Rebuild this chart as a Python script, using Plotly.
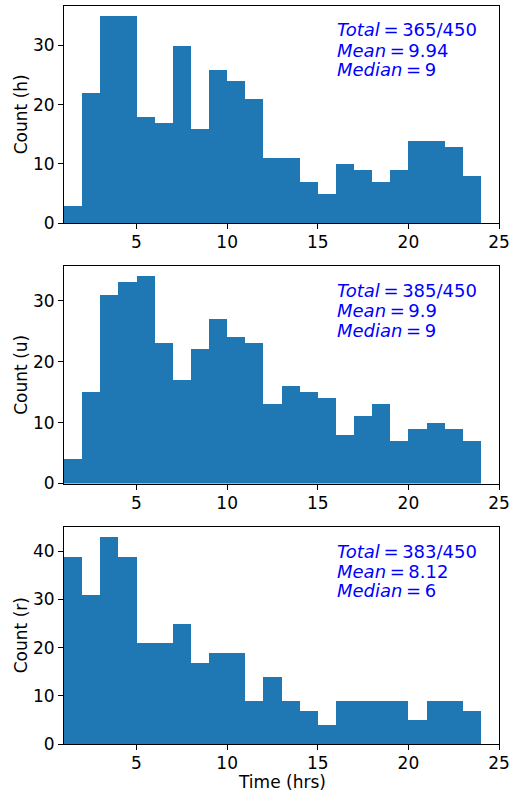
import plotly.graph_objects as go
from plotly.subplots import make_subplots

bin_edges = list(range(1, 25))
counts_h = [3, 22, 35, 35, 18, 17, 30, 16, 26, 24, 21, 11, 11, 7, 5, 10, 9, 7, 9, 14, 14, 13, 8]
counts_u = [4, 15, 31, 33, 34, 23, 17, 22, 27, 24, 23, 13, 16, 15, 14, 8, 11, 13, 7, 9, 10, 9, 7]
counts_r = [39, 31, 43, 39, 21, 21, 25, 17, 19, 19, 9, 14, 9, 7, 4, 9, 9, 9, 9, 5, 9, 9, 7]
panel_labels = ["Count (h)", "Count (u)", "Count (r)"]
x_label = "Time (hrs)"
totals = ["365/450", "385/450", "383/450"]
means = ["9.94", "9.9", "8.12"]
medians = ["9", "9", "6"]
x_ticks = [5, 10, 15, 20, 25]

W, H = 515, 790
FONT = "DejaVu Sans"
BLUE = "#1f77b4"
TS = 17  # tick / label font size

centers = [(a + b) / 2 for a, b in zip(bin_edges[:-1], bin_edges[1:])]
widths = [b - a for a, b in zip(bin_edges[:-1], bin_edges[1:])]

fig = make_subplots(rows=3, cols=1)

# panel pixel boxes (top, bottom)
boxes = [(5.5, 223), (266, 483.5), (526.5, 744)]
x0, x1 = 64, 499

all_counts = [counts_h, counts_u, counts_r]
annotations = []
sp = "\u2009"
for i, counts in enumerate(all_counts):
    r = i + 1
    fig.add_trace(go.Bar(x=centers, y=counts, width=widths, marker_color=BLUE,
                         marker_line_width=0, showlegend=False), row=r, col=1)
    top, bot = boxes[i]
    xa = "xaxis" if r == 1 else f"xaxis{r}"
    ya = "yaxis" if r == 1 else f"yaxis{r}"
    fig.layout[xa].update(domain=[x0 / W, x1 / W])
    fig.layout[ya].update(domain=[1 - bot / H, 1 - top / H])
    fig.update_xaxes(range=[1, 25], tickvals=x_ticks, row=r, col=1)
    fig.update_yaxes(range=[0, max(counts) * 1.05], dtick=10, row=r, col=1)
    # y-axis title
    annotations.append(dict(text=panel_labels[i], xref="paper", yref="paper",
                            x=21 / W, y=1 - ((top + bot) / 2) / H, textangle=-90,
                            xanchor="center", yanchor="middle", showarrow=False,
                            font=dict(family=FONT, size=TS, color="black")))
    offset = top - 5.5
    lines = [f"<i>Total</i>{sp}={sp}{totals[i]}", f"<i>Mean</i>{sp}={sp}{means[i]}",
             f"<i>Median</i>{sp}={sp}{medians[i]}"]
    baselines = [36, 56, 75.7]
    for t, b in zip(lines, baselines):
        annotations.append(dict(text=t, xref="paper", yref="paper",
                                x=335 / W, y=1 - (b + offset - 6) / H,
                                xanchor="left", yanchor="middle", showarrow=False,
                                font=dict(family=FONT, size=18, color="blue")))

annotations.append(dict(text=x_label, xref="paper", yref="paper",
                        x=((x0 + x1) / 2) / W, y=1 - 781 / H, height=17,
                        xanchor="center", yanchor="middle", showarrow=False,
                        font=dict(family=FONT, size=TS, color="black")))

axis_style = dict(showline=True, mirror=True, linecolor="black", linewidth=1,
                  ticks="outside", ticklen=5, tickcolor="black", showgrid=False,
                  zeroline=False, automargin=False,
                  tickfont=dict(family=FONT, size=TS, color="black"))
fig.update_xaxes(**axis_style, ticklabelstandoff=-1)
fig.update_yaxes(**axis_style)

fig.update_layout(width=W, height=H, autosize=False,
                  margin=dict(l=0, r=0, t=0, b=0),
                  paper_bgcolor="white", plot_bgcolor="white",
                  bargap=0, annotations=annotations,
                  font=dict(family=FONT, size=TS, color="black"))

fig.write_html("out.html")
